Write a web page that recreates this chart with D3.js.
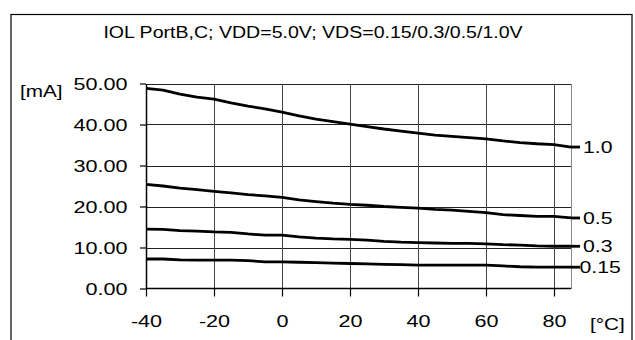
<!DOCTYPE html>
<html>
<head>
<meta charset="utf-8">
<script src="https://cdn.jsdelivr.net/npm/d3@7"></script>
<style>
  body { margin: 0; background: #fff; }
  svg { display: block; font-family: "Liberation Sans", Arial, sans-serif; }
</style>
</head>
<body>
<svg id="chart" width="635" height="340"></svg>
<script>
// Data
const title = "IOL PortB,C; VDD=5.0V; VDS=0.15/0.3/0.5/1.0V";
const temps = [-40, -35, -30, -25, -20, -15, -10, -5, 0, 5, 10, 15, 20, 25, 30, 35, 40, 45, 50, 55, 60, 65, 70, 75, 80, 85];
const seriesNames = ["1.0", "0.5", "0.3", "0.15"];
const vds10 = [48.8, 48.4, 47.4, 46.7, 46.2, 45.3, 44.5, 43.8, 43.0, 42.1, 41.3, 40.7, 40.1, 39.5, 38.9, 38.4, 37.9, 37.4, 37.1, 36.8, 36.5, 36.0, 35.6, 35.3, 35.1, 34.5];
const vds05 = [25.4, 25.0, 24.5, 24.1, 23.7, 23.3, 22.9, 22.6, 22.2, 21.6, 21.2, 20.8, 20.5, 20.3, 20.0, 19.8, 19.6, 19.3, 19.1, 18.8, 18.5, 18.0, 17.8, 17.6, 17.6, 17.2];
const vds03 = [14.5, 14.4, 14.1, 14.0, 13.8, 13.7, 13.3, 13.0, 13.0, 12.6, 12.3, 12.1, 12.0, 11.8, 11.5, 11.3, 11.2, 11.1, 11.0, 11.0, 10.9, 10.7, 10.6, 10.4, 10.3, 10.3];
const vds015 = [7.2, 7.2, 7.0, 6.9, 6.9, 6.9, 6.8, 6.5, 6.5, 6.4, 6.3, 6.2, 6.1, 6.0, 5.9, 5.8, 5.7, 5.7, 5.7, 5.7, 5.7, 5.5, 5.3, 5.2, 5.2, 5.2];
const seriesValues = [vds10, vds05, vds03, vds015];
const yTicks = [0, 10, 20, 30, 40, 50];
const xTicks = [-40, -20, 0, 20, 40, 60, 80];
const yUnit = "[mA]";
const xUnit = "[°C]";

const svg = d3.select("#chart");

// plot area
const plotLeft = 146, plotRight = 571, plotTop = 83.5, plotBottom = 288.5;
const x = d3.scaleLinear().domain([-40, 85]).range([plotLeft, plotRight]);
const y = d3.scaleLinear().domain([0, 50]).range([plotBottom, plotTop]);

// the original uses a horizontally stretched font, fake it with scale(sx,1)
function wideText(parent, tx, ty, str, size, sx, anchor) {
    return parent.append("text")
        .attr("transform", `translate(${tx},${ty}) scale(${sx},1)`)
        .attr("text-anchor", anchor || "start")
        .attr("font-size", size)
        .text(str);
}

// outer frame
svg.append("rect")
    .attr("x", 11).attr("y", 14.5)
    .attr("width", 621).attr("height", 340)
    .attr("fill", "none")
    .attr("stroke", "#000")
    .attr("stroke-width", 1.2);

// title
wideText(svg, 313, 37.5, title, 16.3, 1.2, "middle");

// grid
const grid = svg.append("g").attr("stroke-width", 1).attr("shape-rendering", "crispEdges");
grid.selectAll(".hg")
    .data(yTicks.filter(d => d > 0))
    .join("line")
    .attr("x1", plotLeft).attr("x2", plotRight)
    .attr("y1", d => Math.round(y(d)) + 0.5).attr("y2", d => Math.round(y(d)) + 0.5)
    .attr("stroke", "#222");
grid.selectAll(".vg")
    .data(xTicks.filter(d => d > -40))
    .join("line")
    .attr("x1", d => Math.round(x(d)) + 0.5).attr("x2", d => Math.round(x(d)) + 0.5)
    .attr("y1", plotTop).attr("y2", plotBottom)
    .attr("stroke", "#444");
// right plot edge
grid.append("line")
    .attr("x1", Math.round(plotRight) + 0.5).attr("x2", Math.round(plotRight) + 0.5)
    .attr("y1", plotTop).attr("y2", plotBottom)
    .attr("stroke", "#888");

// axes
const yAxis = svg.append("g")
    .attr("transform", `translate(${plotLeft},0)`)
    .call(d3.axisLeft(y).tickValues(yTicks).tickSize(6).tickSizeOuter(0).tickFormat(d3.format(".2f")));
const xAxis = svg.append("g")
    .attr("transform", `translate(0,${plotBottom})`)
    .call(d3.axisBottom(x).tickValues(xTicks).tickSize(8).tickSizeOuter(0).tickFormat(d => String(d)));

const tickScale = 1.27;
[yAxis, xAxis].forEach(a => {
    a.select(".domain").attr("stroke", "#000").attr("stroke-width", 1.5);
    a.selectAll(".tick line").attr("stroke", "#000").attr("stroke-width", 1.2);
    a.selectAll("text")
        .attr("fill", "#000")
        .attr("font-size", 17)
        .attr("font-family", "'Liberation Sans', Arial, sans-serif");
});
yAxis.selectAll(".tick text")
    .attr("x", null)
    .attr("transform", `translate(-18.5,0) scale(${tickScale},1)`)
    .attr("dy", "0.33em");
xAxis.selectAll(".tick text")
    .attr("y", null)
    .attr("transform", `translate(0,38.5) scale(${tickScale},1)`)
    .attr("dy", null);
xAxis.select(".domain").attr("d", `M${plotLeft},0H${plotRight}`);

// unit labels
wideText(svg, 20, 96.5, yUnit, 17, 1.22);
wideText(svg, 590, 330, xUnit, 17, 1.22);

// curves
const line = d3.line()
    .x((d, i) => x(temps[i]))
    .y(d => y(d));

const curves = svg.append("g");
seriesValues.forEach((vals, k) => {
    curves.append("path")
        .attr("d", line(vals))
        .attr("fill", "none")
        .attr("stroke", "#000")
        .attr("stroke-width", 2.8)
        .attr("stroke-linejoin", "round");
    // leader to label
    const last = vals[vals.length - 1];
    curves.append("line")
        .attr("x1", x(85)).attr("x2", x(85) + 9)
        .attr("y1", y(last)).attr("y2", y(last))
        .attr("stroke", "#000")
        .attr("stroke-width", 2.8);
    const lx = x(85) + (seriesNames[k] === "0.15" ? 8.5 : 12);
    wideText(curves, lx, y(last) + 6, seriesNames[k], 17, 1.25);
});
</script>
</body>
</html>
